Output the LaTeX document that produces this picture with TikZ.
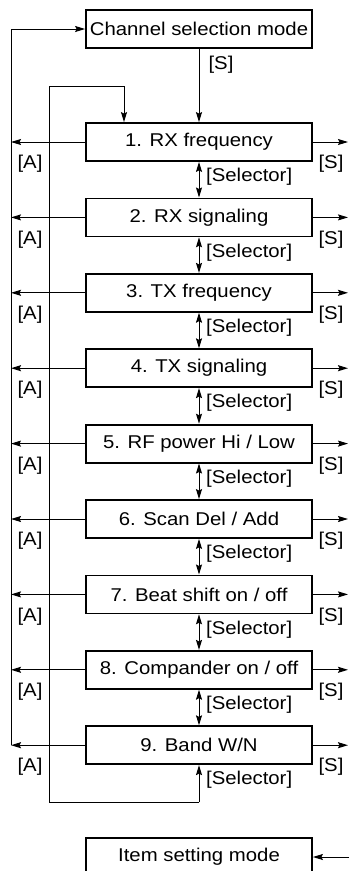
\documentclass[tikz,border=0pt]{standalone}
\usepackage{fontspec}
\setmainfont{Liberation Sans}[FakeStretch=1.1]
\usetikzlibrary{arrows.meta}
\begin{document}
\begin{tikzpicture}[x=1pt,y=-1pt,
  box/.style={draw, line width=1.8pt, minimum width=226pt, minimum height=38pt, inner sep=0pt, font=\fontsize{18.5}{20}\selectfont},
  lbl/.style={font=\fontsize{18.5}{20}\selectfont, inner sep=0pt},
  conn/.style={line width=1pt},
  arr/.style={conn, -{Stealth[length=10pt,width=6pt,inset=1.5pt]}},
  darr/.style={conn, {Stealth[length=10pt,width=6pt,inset=1.5pt]}-{Stealth[length=10pt,width=6pt,inset=1.5pt]}}]
\useasboundingbox (0,0) rectangle (349,871);
\clip (0,0) rectangle (349,871);
\node[box] (ch) at (199,29) {Channel selection mode};
\node[box] (b1) at (199,142) {1. RX frequency};
\node[box] (b2) at (199,217.4) {2. RX signaling};
\node[box] (b3) at (199,292.8) {3. TX frequency};
\node[box] (b4) at (199,368.2) {4. TX signaling};
\node[box] (b5) at (199,443.6) {5. RF power Hi / Low};
\node[box] (b6) at (199,519) {6. Scan Del / Add};
\node[box] (b7) at (199,594.4) {7. Beat shift on / off};
\node[box] (b8) at (199,669.8) {8. Compander on / off};
\node[box] (b9) at (199,745.2) {9. Band W/N};
\node[box] (it) at (199,857) {Item setting mode};
% outer left line
\coordinate (oL9) at (11,745.2);
\coordinate (oLt) at (11,29);
\draw[arr] (oL9) -- (oLt) -- (ch.west);
% S from channel
\draw[arr] (ch.south) -- (b1.north);
\node[lbl] (s0) at (221,65) {[S]};
% inner loop
\coordinate (lb) at (49,802);
\coordinate (lt) at (49,86);
\coordinate (lr) at (124,86);
\coordinate (b9b) at (199,802);
\draw[arr] (b9b) -- (lb) -- (lt) -- (lr) -- (lr |- b1.north);
\draw[arr] (b9b) -- (b9.south);
\node[lbl, anchor=west] (sl9) at (206,780) {[Selector]};
% items
\foreach \i in {1,...,9}{
  \draw[arr] (b\i.west) -- (11,0 |- b\i.west);
  \draw[arr] (b\i.east) -- (348,0 |- b\i.east);
  \path (b\i.center) ++(-169,22) node[lbl] (a\i) {[A]};
  \path (b\i.center) ++(132,22) node[lbl] (s\i) {[S]};
}
\foreach \i/\j in {1/2,2/3,3/4,4/5,5/6,6/7,7/8,8/9}{
  \draw[darr] (b\i.south) -- (b\j.north);
  \path (b\i.center) ++(7,35) node[lbl, anchor=west] (sel\i) {[Selector]};
}
\coordinate (itr) at (349,857);
\draw[arr] (itr) -- (it.east);
\end{tikzpicture}
\end{document}
